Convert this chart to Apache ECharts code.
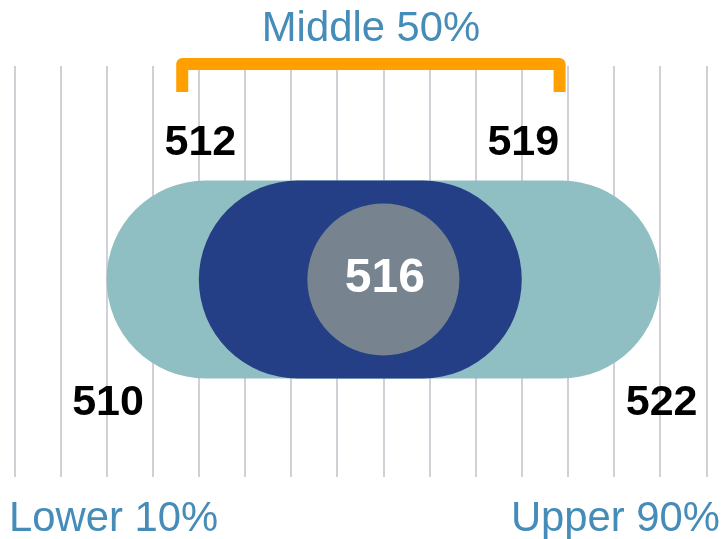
<!DOCTYPE html>
<html>
<head>
<meta charset="utf-8">
<script src="https://cdn.jsdelivr.net/npm/echarts@6/dist/echarts.min.js"></script>
<style>
html,body{margin:0;padding:0;background:#ffffff;}
#chart{width:724px;height:539px;}
</style>
</head>
<body>
<div id="chart"></div>
<script>
// ---- data ----
const axisMin = 508;
const axisMax = 523;
const bandNames = ['Lower 10% to Upper 90%', 'Middle 50%'];
const bandLow = [510, 512];
const bandHigh = [522, 519];
const medianValue = [516];
const bracketRange = [511.64, 519.82];
const titleText = 'Middle 50%';
const lowerText = 'Lower 10%';
const upperText = 'Upper 90%';

// ---- styles ----
const BAND_COLORS = ['#8fbfc2', '#243f85'];
const MEDIAN_COLOR = '#77838f';
const BLUE_TEXT = '#468cb8';
const ORANGE = '#ff9f00';
const CY = 0.4805;          // vertical centre of the bands (fraction of plot height)
const BAND_H = 198;
const NUM_FONT = 'bold 43px "Liberation Sans", Arial, sans-serif';
const CAPTION_FONT = '41.8px "Liberation Sans", Arial, sans-serif';

const bandData = bandLow.map((lo, i) => ({ name: bandNames[i], value: [lo, bandHigh[i]] }));

function txt(text, x, y, font, fill, align, valign) {
  return {
    type: 'text',
    style: { text, x, y, font, fill, align, verticalAlign: valign, textAlign: align, textVerticalAlign: valign }
  };
}

const option = {
  animation: false,
  grid: { left: 14.3, right: 17.7, top: 66, bottom: 62, containLabel: false },
  xAxis: {
    type: 'value', min: axisMin, max: axisMax, interval: 1,
    axisLine: { show: false }, axisTick: { show: false }, axisLabel: { show: false },
    splitLine: { show: true, lineStyle: { color: '#d0d0d6', width: 2 } }
  },
  yAxis: { type: 'value', min: 0, max: 1, show: false },
  series: [
    {
      type: 'custom',
      name: 'bracket',
      clip: false,
      silent: true,
      data: [{ value: bracketRange }],
      renderItem(params, api) {
        const p0 = api.coord([api.value(0), 1]);
        const p1 = api.coord([api.value(1), 1]);
        const top = p0[1] - 2;
        const legBottom = top + 28;
        return {
          type: 'polyline',
          shape: { points: [[p0[0], legBottom], [p0[0], top], [p1[0], top], [p1[0], legBottom]] },
          style: { stroke: ORANGE, lineWidth: 12, fill: null, lineJoin: 'round', lineCap: 'butt' }
        };
      }
    },
    {
      type: 'custom',
      name: 'bands',
      clip: false,
      silent: true,
      data: bandData,
      renderItem(params, api) {
        const lo = api.value(0), hi = api.value(1), idx = params.dataIndex;
        const a = api.coord([lo, CY]);
        const b = api.coord([hi, CY]);
        const cy = a[1];
        const dy = idx === 0 ? 124 : -136;
        return {
          type: 'group',
          children: [
            { type: 'rect', shape: { x: a[0], y: cy - BAND_H / 2, width: b[0] - a[0], height: BAND_H, r: BAND_H / 2 },
              style: { fill: BAND_COLORS[idx] } },
            txt(String(lo), a[0] + 1.5, cy + dy, NUM_FONT, '#000000', 'center', 'middle'),
            txt(String(hi), b[0] + 1.5, cy + dy, NUM_FONT, '#000000', 'center', 'middle')
          ]
        };
      }
    },
    {
      type: 'scatter',
      name: 'median',
      silent: true,
      symbol: 'circle',
      symbolSize: 152,
      itemStyle: { color: MEDIAN_COLOR, opacity: 1 },
      data: medianValue.map(v => [v, CY]),
      label: {
        show: true, position: 'inside',
        formatter: p => String(p.value[0]),
        color: '#ffffff', fontFamily: '"Liberation Sans", Arial, sans-serif', fontWeight: 'bold', fontSize: 48,
        offset: [1.5, -1]
      },
      z: 5
    }
  ],
  graphic: [
    txt(titleText, 371, 29, CAPTION_FONT, BLUE_TEXT, 'center', 'middle'),
    txt(lowerText, 9, 519, CAPTION_FONT, BLUE_TEXT, 'left', 'middle'),
    txt(upperText, 720, 519, CAPTION_FONT, BLUE_TEXT, 'right', 'middle')
  ]
};

const chart = echarts.init(document.getElementById('chart'), null, { renderer: 'canvas' });
chart.setOption(option);
</script>
</body>
</html>
